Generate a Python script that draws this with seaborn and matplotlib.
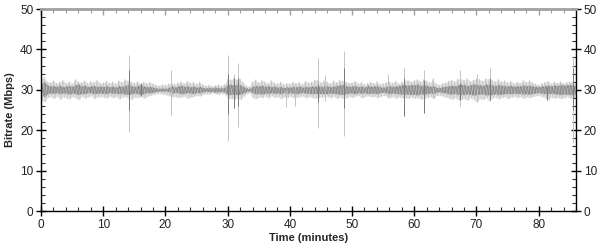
import numpy as np
import pandas as pd
import matplotlib
matplotlib.use("Agg")
import matplotlib.pyplot as plt
from matplotlib.ticker import MultipleLocator
import seaborn as sns

# sampling grid (minutes), one sample every half minute
minutes = np.arange(0, 86.01, 0.5)

# envelope of the light (per-sample) trace
light_hi = [
    32.5, 33.2, 32.0, 31.8, 32.3, 31.6, 32.0, 32.4, 31.7, 32.1, 31.5, 32.6, 32.0, 31.8, 32.3, 31.6, 32.1, 31.9, 32.4, 31.7,
    31.8, 32.2, 31.6, 32.0, 31.5, 32.3, 31.9, 32.6, 32.2, 32.0, 31.7, 32.1, 31.4, 32.0, 31.6, 31.9, 31.5, 31.2, 31.0, 31.3,
    31.2, 31.5, 31.8, 31.4, 31.8, 32.0, 31.6, 32.2, 31.7, 31.9, 31.4, 32.0, 31.3, 31.0, 31.2, 30.9, 31.1, 31.3, 31.0, 31.4,
    32.6, 32.5, 32.8, 32.5, 32.8, 31.8, 31.0, 30.8, 32.0, 32.5, 31.8, 32.4, 32.0, 31.6, 32.3, 31.7, 31.5, 32.0, 31.3, 31.6,
    31.5, 32.0, 31.6, 31.9, 31.4, 32.2, 31.8, 32.0, 32.5, 32.4, 31.8, 32.3, 32.0, 31.6, 32.3, 31.8, 32.4, 32.2, 32.0, 31.7,
    31.8, 32.2, 31.5, 31.9, 31.3, 31.7, 32.0, 31.6, 32.1, 31.4, 31.6, 31.9, 32.0, 31.7, 32.2, 31.5, 32.0, 32.3, 32.4, 32.0,
    32.3, 32.6, 32.0, 32.5, 32.2, 31.8, 32.5, 31.5, 31.2, 31.6, 31.8, 32.2, 32.5, 32.0, 32.7, 32.7, 32.4, 32.8, 32.1, 32.5,
    32.8, 32.6, 32.2, 32.8, 32.6, 32.4, 32.1, 32.6, 32.0, 32.3, 31.8, 32.2, 31.6, 32.0, 31.7, 32.4, 31.9, 32.3, 31.8, 31.5,
    31.2, 31.6, 31.9, 32.2, 31.5, 32.0, 31.7, 32.1, 31.6, 31.9, 32.0, 32.0, 31.5,
]
light_lo = [
    27.5, 27.0, 28.0, 28.3, 27.8, 28.4, 27.6, 28.2, 28.0, 27.7, 28.3, 28.0, 27.5, 28.4, 27.9, 28.2, 28.5, 27.8, 28.1, 28.3,
    28.2, 27.9, 28.4, 28.0, 28.3, 27.7, 28.1, 28.3, 27.8, 27.6, 28.2, 28.0, 28.4, 27.9, 28.3, 28.6, 28.8, 29.0, 29.1, 28.9,
    28.8, 28.5, 28.2, 28.3, 28.0, 28.2, 28.4, 27.9, 28.1, 28.3, 28.6, 28.4, 28.8, 29.0, 28.9, 29.2, 29.0, 28.8, 29.1, 28.9,
    27.8, 27.8, 27.7, 27.9, 27.6, 28.3, 29.0, 29.2, 28.0, 27.8, 28.2, 28.0, 28.4, 27.9, 28.5, 28.1, 28.3, 27.8, 28.2, 28.0,
    28.4, 28.0, 28.1, 28.2, 28.5, 28.0, 28.3, 28.1, 27.9, 28.0, 28.2, 28.1, 28.3, 28.0, 28.4, 27.8, 28.2, 27.9, 28.0, 28.3,
    28.1, 28.4, 28.6, 28.0, 28.3, 28.5, 28.2, 28.4, 28.0, 28.3, 28.6, 28.4, 28.0, 28.3, 27.9, 28.2, 28.0, 28.0, 27.8, 28.2,
    27.9, 28.1, 27.6, 27.9, 28.0, 28.3, 27.8, 28.5, 28.7, 28.4, 28.2, 27.9, 27.6, 28.0, 27.5, 27.6, 27.8, 27.4, 28.0, 27.6,
    27.0, 27.8, 27.6, 28.0, 27.2, 27.9, 28.2, 27.7, 28.0, 28.3, 27.8, 28.1, 28.4, 28.0, 28.3, 27.9, 28.2, 28.0, 28.3, 28.5,
    28.6, 28.3, 28.0, 27.5, 28.2, 27.9, 28.1, 27.8, 28.0, 28.3, 27.9, 28.0, 28.5,
]
# envelope of the dark (averaged) trace
dark_hi = [
    31.5, 32.0, 31.2, 30.9, 31.0, 30.8, 31.1, 30.7, 30.9, 31.0, 30.8, 31.2, 31.4, 30.9, 31.1, 30.7, 30.9, 31.0, 30.8, 30.9,
    30.8, 31.0, 30.7, 30.9, 30.6, 31.0, 30.8, 31.1, 31.2, 31.0, 30.8, 31.0, 31.3, 30.9, 30.7, 30.8, 30.6, 30.4, 30.3, 30.4,
    30.3, 30.5, 31.0, 30.6, 30.9, 31.1, 30.8, 31.0, 30.7, 30.9, 30.6, 30.8, 30.5, 30.4, 30.5, 30.4, 30.6, 30.5, 30.4, 30.6,
    31.4, 31.3, 31.3, 31.2, 31.2, 30.8, 30.4, 30.3, 30.8, 31.0, 30.9, 31.1, 30.8, 31.0, 30.7, 30.9, 30.6, 30.8, 30.5, 30.7,
    30.6, 30.8, 30.7, 30.9, 30.6, 30.8, 30.7, 30.9, 30.8, 31.0, 30.8, 30.9, 31.0, 30.7, 30.9, 31.0, 31.2, 31.2, 31.0, 30.8,
    30.9, 31.0, 30.7, 30.9, 30.6, 31.1, 30.8, 30.9, 31.0, 30.7, 30.6, 30.8, 31.0, 30.8, 30.9, 31.0, 31.2, 31.2, 31.1, 31.3,
    31.2, 31.4, 31.0, 31.3, 31.1, 30.8, 31.0, 30.6, 30.5, 30.7, 30.8, 31.0, 31.1, 30.9, 31.2, 31.3, 31.3, 31.0, 31.2, 31.4,
    31.3, 31.2, 31.0, 31.4, 31.3, 31.2, 31.0, 31.3, 31.1, 31.0, 30.9, 31.1, 30.8, 31.0, 30.9, 31.2, 31.0, 31.1, 30.9, 30.8,
    30.7, 30.9, 31.0, 31.1, 30.9, 31.2, 31.0, 31.3, 31.1, 31.2, 31.3, 31.2, 31.0,
]
dark_lo = [
    28.8, 28.3, 29.0, 29.2, 29.1, 29.3, 29.0, 29.2, 29.1, 28.9, 29.2, 29.0, 28.8, 29.1, 29.0, 29.3, 29.2, 29.0, 29.1, 29.2,
    29.1, 29.0, 29.3, 29.1, 29.2, 29.0, 29.1, 28.9, 28.9, 29.0, 29.2, 29.0, 28.8, 29.1, 29.3, 29.2, 29.4, 29.6, 29.7, 29.6,
    29.7, 29.5, 29.0, 29.4, 29.2, 29.0, 29.1, 29.3, 29.2, 29.0, 29.4, 29.2, 29.5, 29.6, 29.5, 29.6, 29.4, 29.5, 29.6, 29.4,
    28.8, 28.8, 28.9, 28.8, 28.9, 29.2, 29.6, 29.7, 29.2, 29.0, 29.1, 28.9, 29.2, 29.0, 29.3, 29.1, 29.2, 29.0, 29.3, 29.0,
    29.3, 29.1, 29.0, 29.2, 29.3, 29.1, 29.2, 29.0, 29.1, 29.0, 29.1, 29.0, 29.0, 29.2, 29.1, 29.0, 28.9, 28.9, 29.0, 29.2,
    29.1, 29.0, 29.3, 29.1, 29.3, 29.0, 29.2, 29.1, 29.0, 29.3, 29.4, 29.2, 29.0, 29.2, 29.1, 29.0, 28.9, 28.9, 28.9, 28.8,
    28.9, 28.7, 29.0, 28.9, 29.0, 29.2, 29.0, 29.4, 29.5, 29.3, 29.2, 29.0, 28.9, 29.1, 28.8, 28.8, 28.8, 29.0, 28.8, 28.7,
    28.8, 28.9, 29.0, 28.7, 28.8, 28.8, 29.0, 28.8, 28.9, 29.0, 29.1, 29.0, 29.2, 29.0, 29.1, 28.9, 29.0, 28.9, 29.1, 29.2,
    29.3, 29.1, 29.0, 29.0, 29.1, 29.0, 28.9, 28.8, 29.0, 28.9, 28.8, 28.8, 29.1,
]

# isolated spikes (minute, top, bottom)
light_spike_t = [14.2, 20.9, 30.1, 31.0, 31.6, 39.4, 40.9, 44.5, 45.6, 48.7, 55.8, 58.3, 61.5, 63.0, 67.4, 70.1, 72.2, 85.5]
light_spike_top = [38.6, 34.9, 38.6, 34.0, 36.6, 31.5, 31.5, 37.8, 33.7, 39.7, 34.0, 35.3, 34.8, 32.8, 34.8, 33.8, 35.3, 38.0]
light_spike_bot = [19.6, 23.8, 17.4, 26.0, 20.9, 25.8, 25.9, 20.5, 27.2, 18.6, 28.0, 23.5, 24.2, 28.0, 26.0, 27.0, 27.2, 16.8]
dark_spike_t = [14.2, 16.1, 30.1, 31.0, 31.6, 44.5, 48.7, 58.3, 61.5, 67.4, 72.2, 81.4, 85.5]
dark_spike_top = [35.0, 31.8, 33.9, 33.0, 33.0, 31.5, 35.3, 32.8, 32.5, 31.8, 33.0, 30.8, 35.5]
dark_spike_bot = [25.0, 28.5, 24.0, 25.5, 26.0, 27.0, 25.5, 23.5, 24.2, 27.5, 27.5, 27.5, 25.0]

x_ticks = [0, 10, 20, 30, 40, 50, 60, 70, 80]
y_ticks = [0, 10, 20, 30, 40, 50]


def zigzag(t, hi, lo, offset):
    t = np.asarray(t, dtype=float)
    tt = np.empty(2 * len(t))
    vv = np.empty(2 * len(t))
    tt[0::2] = t + offset
    tt[1::2] = t + offset + 0.25
    vv[0::2] = hi
    vv[1::2] = lo
    df = pd.DataFrame({"t": tt, "v": vv})
    return df[df.t <= 86.0]


light_df = zigzag(minutes, light_hi, light_lo, 0.0)
dark_df = zigzag(minutes, dark_hi, dark_lo, 0.12)

sns.set_theme(style="white")
plt.rcParams["font.family"] = ["Liberation Sans", "DejaVu Sans"]

fig = plt.figure(figsize=(6.0, 2.46), dpi=100)
ax = fig.add_axes([41 / 600, 35 / 246, 535 / 600, 202 / 246])

# light layer
ax.fill_between(minutes, light_lo, light_hi, color="#e2e2e2", linewidth=0)
sns.lineplot(data=light_df, x="t", y="v", ax=ax, color="#c4c4c4",
             linewidth=0.5, estimator=None, sort=False)
ax.vlines(light_spike_t, light_spike_bot, light_spike_top, color="#c4c4c4", linewidth=0.7)

# dark layer
ax.fill_between(minutes, dark_lo, dark_hi, color="#8e8e8e", linewidth=0)
sns.lineplot(data=dark_df, x="t", y="v", ax=ax, color="#8a8a8a",
             linewidth=0.4, estimator=None, sort=False)
ax.vlines(dark_spike_t, dark_spike_bot, dark_spike_top, color="#7a7a7a", linewidth=0.7)

ax.set_xlim(0, 86)
ax.set_ylim(0, 50)
ax.set_xticks(x_ticks)
ax.set_yticks(y_ticks)
ax.xaxis.set_minor_locator(MultipleLocator(2))
ax.yaxis.set_minor_locator(MultipleLocator(2))

ax.set_xlabel("Time (minutes)", fontsize=8, fontweight="bold", labelpad=2)
ax.set_ylabel("Bitrate (Mbps)", fontsize=8, fontweight="bold", labelpad=4)

for side in ["left", "right", "bottom"]:
    ax.spines[side].set_color("black")
    ax.spines[side].set_linewidth(1.0)
ax.spines["top"].set_color("#a0a0a0")
ax.spines["top"].set_linewidth(2.0)

ax.tick_params(axis="both", which="major", direction="inout", length=7,
               width=1, colors="black", labelsize=8.5, pad=2)
ax.tick_params(axis="both", which="minor", direction="in", length=3,
               width=0.8, colors="#333333")
ax.tick_params(axis="y", which="both", left=True, right=True, labelright=True)
ax.tick_params(axis="x", which="both", bottom=True, top=False)
for lab in ax.get_xticklabels() + ax.get_yticklabels():
    lab.set_color("#222222")

top = ax.secondary_xaxis("top")
top.set_xticks(x_ticks)
top.xaxis.set_minor_locator(MultipleLocator(2))
top.tick_params(axis="x", which="major", direction="in", length=4,
                width=1, colors="#a0a0a0", labeltop=False)
top.tick_params(axis="x", which="minor", direction="in", length=3,
                width=0.8, colors="#a0a0a0")
top.set_xticklabels([])
top.spines["top"].set_visible(False)

ax.grid(False)
fig.savefig("out.png", dpi=100)
